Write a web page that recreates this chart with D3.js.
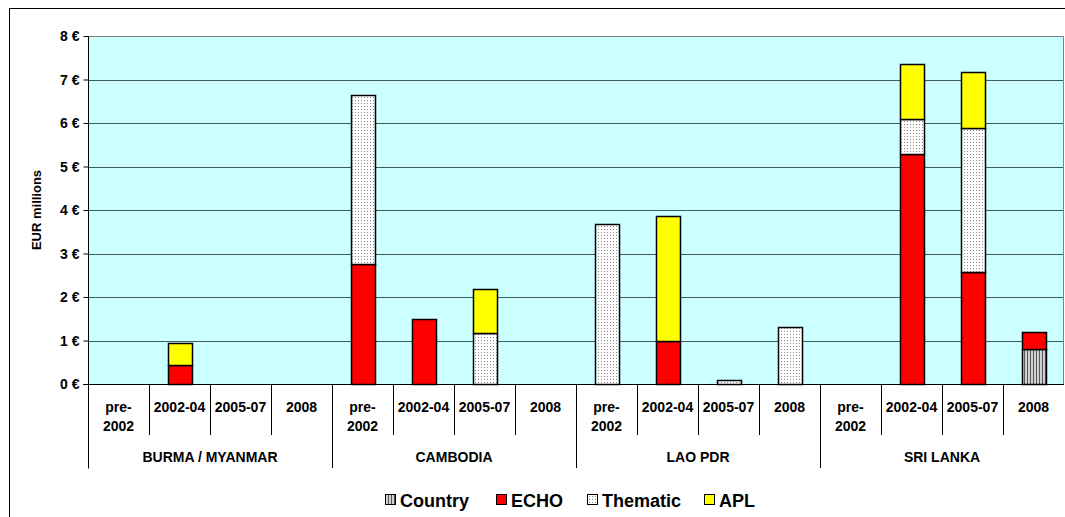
<!DOCTYPE html>
<html><head><meta charset="utf-8">
<script src="https://cdn.jsdelivr.net/npm/d3@7"></script>
<style>body{margin:0;background:#fff;}svg{display:block;font-family:"Liberation Sans",Arial,sans-serif;}</style>
</head><body><svg id="c" width="1065" height="517"></svg>
<script>
const groups = ["BURMA / MYANMAR","CAMBODIA","LAO PDR","SRI LANKA"];
const periods = ["pre-2002","2002-04","2005-07","2008"];
const seriesNames = ["Country","ECHO","Thematic","APL"];
// values per group, per period: [Country, ECHO, Thematic, APL]
const country  = [[0,0,0,0],[0,0,0,0],[0,0,0,0],[0,0,0,0.80]];
const echo     = [[0,0.44,0,0],[2.76,1.49,0,0],[0,0.99,0,0],[0,5.29,2.57,0.40]];
const thematic = [[0,0,0,0],[3.88,0,1.17,0],[3.68,0,0.09,1.31],[0,0.80,3.32,0]];
const apl      = [[0,0.50,0,0],[0,0,1.01,0],[0,2.87,0,0],[0,1.27,1.28,0]];
const yTicks = [0,1,2,3,4,5,6,7,8];

const svg = d3.select("#c");
const defs = svg.append("defs");
const pd = defs.append("pattern").attr("id","dots").attr("patternUnits","userSpaceOnUse").attr("width",3).attr("height",3);
pd.append("rect").attr("width",3).attr("height",3).attr("fill","#fff");
pd.append("rect").attr("x",1).attr("y",1).attr("width",1).attr("height",1).attr("fill","#888");
const pc = defs.append("pattern").attr("id","stripes").attr("patternUnits","userSpaceOnUse").attr("width",3).attr("height",3);
pc.append("rect").attr("width",3).attr("height",3).attr("fill","#d0d0d0");
pc.append("rect").attr("x",1).attr("width",1).attr("height",3).attr("fill","#555");
const fills = ["url(#stripes)","#ff0000","url(#dots)","#ffff00"];

// outer frame
svg.append("rect").attr("x",9.5).attr("y",8.5).attr("width",1100).attr("height",600).attr("fill","none").attr("stroke","#000");

const L=88, T=36, B=384, R=1064;
const slots = [];
groups.forEach((g,gi)=>periods.forEach((p,pi)=>slots.push({g:gi,p:pi,key:gi+"|"+pi})));
const x = d3.scaleBand().domain(slots.map(s=>s.key)).range([L,R]).paddingInner(0).paddingOuter(0);
const y = d3.scaleLinear().domain([0,8]).range([B,T]);

svg.append("rect").attr("x",L).attr("y",T).attr("width",R-L).attr("height",B-T).attr("fill","#ccffff");
svg.append("g").selectAll("line").data(yTicks.slice(1)).join("line")
  .attr("x1",L).attr("x2",R).attr("y1",d=>Math.round(y(d))+0.5).attr("y2",d=>Math.round(y(d))+0.5)
  .attr("stroke",d=>d===8?"#808080":"#3d5c5c").attr("stroke-width",1);
svg.append("line").attr("x1",R-0.5).attr("x2",R-0.5).attr("y1",T).attr("y2",B).attr("stroke","#808080");

// y axis
const ya = svg.append("g").attr("transform",`translate(${L+0.5},0.5)`)
  .call(d3.axisLeft(y).tickValues(yTicks).tickSize(5).tickFormat(d=>d+" €"));
ya.select(".domain").attr("stroke","#000").attr("d",`M0,${T}V${B+84}`);
ya.selectAll(".tick line").attr("stroke","#000").attr("transform","translate(0,-0.5)");
ya.selectAll(".tick text").attr("font-size",14).attr("font-weight","bold").attr("fill","#000").attr("x",-9)
  .attr("font-family","Liberation Sans, Arial, sans-serif");
svg.append("text").attr("transform",`translate(41,${(T+B)/2}) rotate(-90)`).attr("text-anchor","middle")
  .attr("font-size",13).attr("font-weight","bold").text("EUR millions");

// bars
const bw = 24;
const stackData = slots.map(s=>{
  const vals=[country[s.g][s.p],echo[s.g][s.p],thematic[s.g][s.p],apl[s.g][s.p]];
  let acc=0; return vals.map((v,i)=>{const r={key:s.key,i,y0:acc,y1:acc+v}; acc+=v; return r;}).filter(r=>r.y1>r.y0);
}).flat();
svg.append("g").selectAll("rect").data(stackData).join("rect")
  .attr("x",d=>Math.round(x(d.key)+x.bandwidth()/2-bw/2)+0.5)
  .attr("y",d=>Math.round(y(d.y1))+0.5)
  .attr("width",bw)
  .attr("height",d=>Math.max(1,Math.round(y(d.y0))-Math.round(y(d.y1))))
  .attr("fill",d=>fills[d.i]).attr("stroke","#000").attr("stroke-width",1.5);

// baseline
svg.append("line").attr("x1",L-5).attr("x2",R).attr("y1",B+0.5).attr("y2",B+0.5).attr("stroke","#000");

// x axis separators and labels
const xa = svg.append("g");
slots.forEach((s,k)=>{
  const x0 = x(s.key);
  if(k>0){
    const big = s.p===0;
    xa.append("line").attr("x1",Math.round(x0)+0.5).attr("x2",Math.round(x0)+0.5).attr("y1",B).attr("y2",big?B+84:B+51)
      .attr("stroke","#000");
  }
  const cx = x0 + x.bandwidth()/2;
  const lab = periods[s.p];
  if(lab==="pre-2002"){
    xa.append("text").attr("x",cx).attr("y",B+28).attr("text-anchor","middle").attr("font-size",14).attr("font-weight","bold").text("pre-");
    xa.append("text").attr("x",cx).attr("y",B+47).attr("text-anchor","middle").attr("font-size",14).attr("font-weight","bold").text("2002");
  } else {
    xa.append("text").attr("x",cx).attr("y",B+28).attr("text-anchor","middle").attr("font-size",14).attr("font-weight","bold").text(lab);
  }
});
groups.forEach((g,gi)=>{
  const a = x(gi+"|0"), b = x(gi+"|3")+x.bandwidth();
  xa.append("text").attr("x",(a+b)/2).attr("y",B+78).attr("text-anchor","middle").attr("font-size",14).attr("font-weight","bold").text(g);
});

// legend
const lg = svg.append("g");
const items = [{n:"Country",x:385},{n:"ECHO",x:496},{n:"Thematic",x:587},{n:"APL",x:704}];
items.forEach((it,i)=>{
  lg.append("rect").attr("x",it.x+0.5).attr("y",494.5).attr("width",10).attr("height",10).attr("fill",fills[i]).attr("stroke","#000");
  lg.append("text").attr("x",it.x+15).attr("y",507).attr("font-size",18).attr("font-weight","bold").text(seriesNames[i]);
});
</script></body></html>
